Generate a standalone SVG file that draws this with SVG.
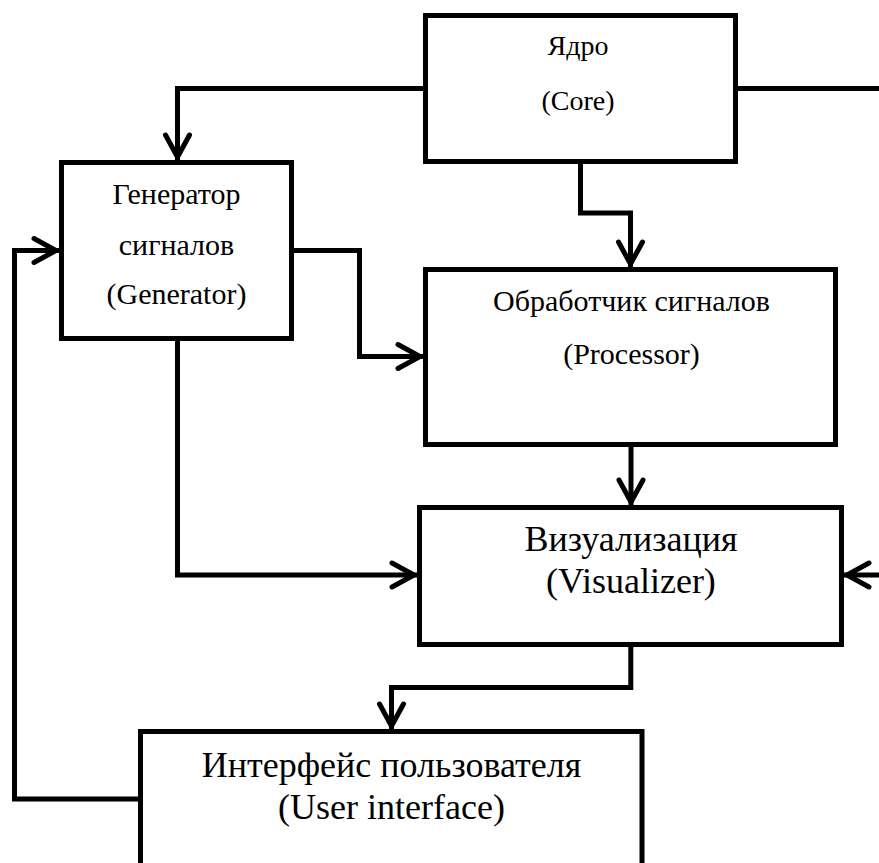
<svg xmlns="http://www.w3.org/2000/svg" width="879" height="863" viewBox="0 0 879 863">
<style>
.box{fill:#fff;stroke:#000;stroke-width:5}
.lbl{font-family:"Liberation Serif","Times New Roman",serif;fill:#000;text-anchor:middle}
.conn{fill:none;stroke:#000;stroke-width:5;marker-end:url(#arr)}
.plain{fill:none;stroke:#000;stroke-width:5}
</style>
<defs>
<marker id="arr" markerUnits="userSpaceOnUse" markerWidth="40" markerHeight="40" refX="0" refY="0" orient="auto" overflow="visible" viewBox="-30 -20 40 40">
<path d="M-25,-12 L-3,0 L-25,12" fill="none" stroke="#000" stroke-width="5" stroke-linecap="round" stroke-linejoin="miter"/>
</marker>
</defs>
<rect width="879" height="863" fill="#fff"/>
<g id="connectors">
<path class="conn" d="M423,88.5 H177.5 V160"/>
<path class="conn" d="M580.5,164 V213 H630.5 V267"/>
<path class="plain" d="M738,88.5 H879"/>
<path class="conn" d="M294,250.5 H359.5 V356.5 H423"/>
<path class="conn" d="M177.5,341 V575 H417"/>
<path class="conn" d="M631,447 V505"/>
<path class="conn" d="M879,575 H844"/>
<path class="conn" d="M630.8,647 V687.5 H391.5 V729"/>
<path class="conn" d="M138,799 H14.5 V250.5 H59"/>
</g>
<g id="core">
<rect class="box" x="425.5" y="15.5" width="310" height="146"/>
<text class="lbl" x="578" y="55" font-size="28">Ядро</text>
<text class="lbl" x="578" y="110" font-size="28">(Core)</text>
</g>
<g id="generator">
<rect class="box" x="61.5" y="162.5" width="230" height="176"/>
<text class="lbl" x="176.5" y="204" font-size="30">Генератор</text>
<text class="lbl" x="176.5" y="255" font-size="30">сигналов</text>
<text class="lbl" x="176.5" y="304" font-size="30">(Generator)</text>
</g>
<g id="processor">
<rect class="box" x="425.5" y="269.5" width="410" height="175"/>
<text class="lbl" x="631.5" y="311" font-size="30">Обработчик сигналов</text>
<text class="lbl" x="631.5" y="364" font-size="30">(Processor)</text>
</g>
<g id="visualizer">
<rect class="box" x="419.5" y="507.5" width="422" height="137"/>
<text class="lbl" x="631" y="551" font-size="36">Визуализация</text>
<text class="lbl" x="631" y="593" font-size="36">(Visualizer)</text>
</g>
<g id="user-interface">
<rect class="box" x="140.5" y="731.5" width="501.5" height="200"/>
<text class="lbl" x="391.5" y="777" font-size="36">Интерфейс пользователя</text>
<text class="lbl" x="391.5" y="819" font-size="36">(User interface)</text>
</g>
</svg>
